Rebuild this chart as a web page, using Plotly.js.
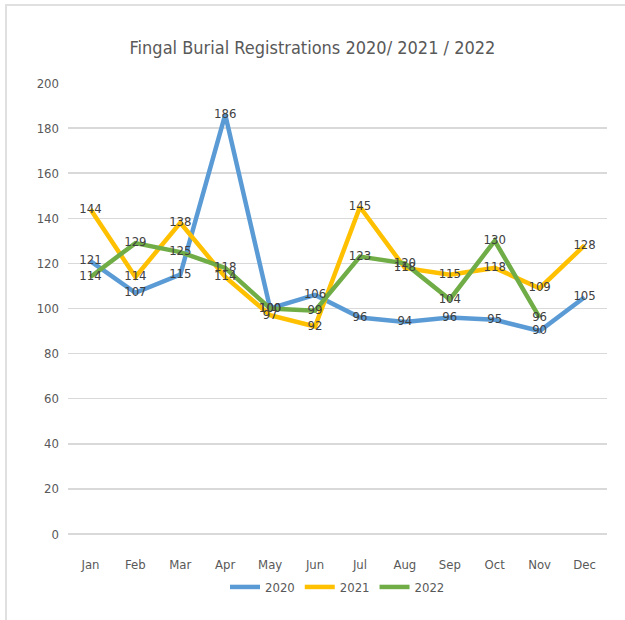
<!DOCTYPE html>
<html>
<head>
<meta charset="utf-8">
<script src="https://cdn.plot.ly/plotly-3.0.1.min.js"></script>
<style>
html, body { margin:0; padding:0; background:#fff; overflow:hidden; }
#chart { position:absolute; left:0; top:0; width:625px; height:620px; }
#frame { position:absolute; left:5px; top:4px; width:700px; height:700px;
  border-left:2px solid #e0e0e0; border-top:2px solid #e0e0e0; pointer-events:none; }
</style>
</head>
<body>
<div id="chart"></div>
<div id="frame"></div>
<script>
const months = ["Jan","Feb","Mar","Apr","May","Jun","Jul","Aug","Sep","Oct","Nov","Dec"];
const y2020 = [121,107,115,186,100,106,96,94,96,95,90,105];
const y2021 = [144,114,138,114,97,92,145,118,115,118,109,128];
const y2022 = [114,129,125,118,100,99,123,120,104,130,96,null];
const seriesNames = ["2020","2021","2022"];
const colors = ["#5B9BD5","#FFC000","#70AD47"];
const FONT = '"DejaVu Sans Condensed", "Liberation Sans Narrow", sans-serif';

const all = [y2020, y2021, y2022];
const traces = [];
all.forEach((ys, i) => {
  traces.push({
    x: months, y: ys, name: seriesNames[i], type: 'scatter', mode: 'lines',
    line: {color: colors[i], width: 4.5}, hoverinfo: 'skip'
  });
});
all.forEach((ys, i) => {
  traces.push({
    x: months, y: ys, type: 'scatter', mode: 'text', showlegend: false,
    text: ys.map(v => v == null ? '' : String(v)),
    textposition: 'middle center',
    textfont: {family: FONT, size: 13, color: '#404040'}, hoverinfo: 'skip'
  });
});

const layout = {
  width: 625, height: 620,
  margin: {l: 68, r: 18, t: 83, b: 86},
  paper_bgcolor: '#ffffff', plot_bgcolor: '#ffffff',
  font: {family: FONT, color: '#595959'},
  title: {text: 'Fingal Burial Registrations 2020/ 2021 / 2022',
    font: {family: FONT, size: 18, color: '#595959'},
    x: 0.5, xanchor: 'center', y: 1 - 48/620, yanchor: 'middle', yref: 'container'},
  xaxis: {type: 'category', range: [-0.5, 11.5], showgrid: false, zeroline: false,
    showline: false, ticks: '', tickfont: {family: FONT, size: 13, color: '#595959'},
    ticklabelstandoff: 21, fixedrange: true},
  yaxis: {range: [0, 200], dtick: 20, tick0: 0, showgrid: true, gridcolor: '#d9d9d9',
    gridwidth: 1.5, zeroline: true, zerolinecolor: '#d9d9d9', zerolinewidth: 1.5,
    showline: false, ticks: '', tickfont: {family: FONT, size: 13, color: '#595959'},
    ticklabelstandoff: 8, fixedrange: true},
  showlegend: true,
  legend: {orientation: 'h', x: 0.5, xanchor: 'center', y: (534-587)/451, yanchor: 'middle',
    font: {family: FONT, size: 13, color: '#595959'}, itemwidth: 30, tracegroupgap: 0,
    bgcolor: 'rgba(0,0,0,0)'}
};

Plotly.newPlot('chart', traces, layout, {displayModeBar: false, staticPlot: true});
</script>
</body>
</html>
